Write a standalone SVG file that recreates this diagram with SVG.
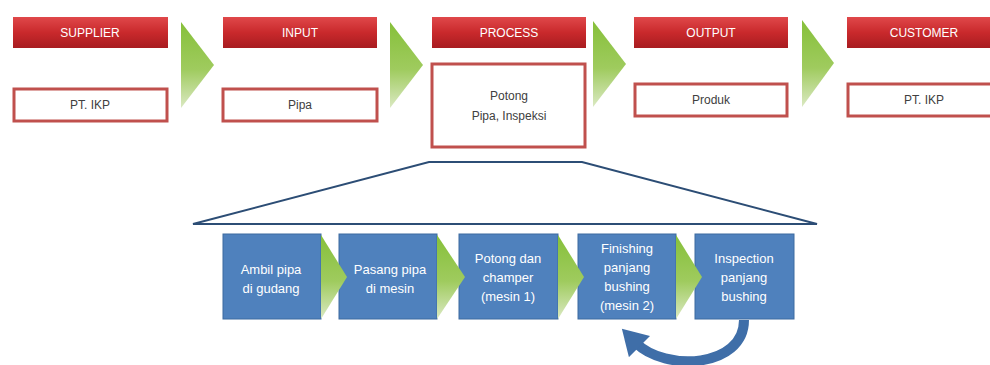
<svg xmlns="http://www.w3.org/2000/svg" width="990" height="365" viewBox="0 0 990 365">
<defs>
<linearGradient id="gRed" x1="0" y1="0" x2="0" y2="1">
<stop offset="0" stop-color="#e0484a"/>
<stop offset="0.5" stop-color="#c9292c"/>
<stop offset="1" stop-color="#a81c20"/>
</linearGradient>
<linearGradient id="gGreen" x1="0" y1="0" x2="0" y2="1">
<stop offset="0" stop-color="#86c03a"/>
<stop offset="0.55" stop-color="#9fcb5e"/>
<stop offset="1" stop-color="#dbe9c3"/>
</linearGradient>
<marker id="ah" markerUnits="userSpaceOnUse" markerWidth="30" markerHeight="30" refX="4" refY="12" orient="auto" viewBox="0 0 24 24">
<path d="M0,0 L20,12 L0,24 Z" fill="#3f6ea8"/>
</marker>
</defs>
<style>
.hdr{fill:url(#gRed);}
.hdrt{font-family:"Liberation Sans",Arial,sans-serif;font-size:12px;fill:#ffffff;text-anchor:middle;}
.wb{fill:#ffffff;stroke:#c0504d;stroke-width:3;}
.wbt{font-family:"Liberation Sans",Arial,sans-serif;font-size:12px;fill:#404040;text-anchor:middle;}
.chev{fill:url(#gGreen);}
.bb{fill:#4f81bd;stroke:#3d6ba0;stroke-width:1;}
.bbt{font-family:"Liberation Sans",Arial,sans-serif;font-size:13px;fill:#ffffff;text-anchor:middle;}
.trap{fill:none;stroke:#2c4d75;stroke-width:2;}
</style>

<g id="supplier">
<rect class="hdr" x="13" y="17" width="155" height="31"/>
<text class="hdrt" x="90" y="37">SUPPLIER</text>
<rect class="wb" x="14" y="89" width="153" height="32"/>
<text class="wbt" x="90" y="109">PT. IKP</text>
</g>
<g id="input">
<rect class="hdr" x="223" y="17" width="154" height="31"/>
<text class="hdrt" x="300" y="37">INPUT</text>
<rect class="wb" x="223" y="89" width="154" height="32"/>
<text class="wbt" x="300" y="109">Pipa</text>
</g>
<g id="process">
<rect class="hdr" x="432" y="17" width="154" height="31"/>
<text class="hdrt" x="509" y="37">PROCESS</text>
<rect class="wb" x="432" y="64" width="153" height="83"/>
<text class="wbt" x="509" y="100">Potong</text>
<text class="wbt" x="509" y="120">Pipa, Inspeksi</text>
</g>
<g id="output">
<rect class="hdr" x="634" y="17" width="154" height="31"/>
<text class="hdrt" x="711" y="37">OUTPUT</text>
<rect class="wb" x="635" y="84" width="152" height="32"/>
<text class="wbt" x="711" y="104">Produk</text>
</g>
<g id="customer">
<rect class="hdr" x="847" y="17" width="150" height="31"/>
<text class="hdrt" x="924" y="37">CUSTOMER</text>
<rect class="wb" x="848" y="84" width="150" height="32"/>
<text class="wbt" x="924" y="104">PT. IKP</text>
</g>

<g id="connectors">
<polygon class="chev" points="181,22 214,65 181,108"/>
<polygon class="chev" points="390,22 423,65 390,108"/>
<polygon class="chev" points="593,21 626,64 593,107"/>
<polygon class="chev" points="802,20 834,63 802,107"/>
<path class="trap" d="M193,224 L429,162 L582,162 L817,224 Z"/>
<path d="M744,320 C744,368 665,372 636,343" fill="none" stroke="#3f6ea8" stroke-width="10" marker-end="url(#ah)"/>
</g>

<g id="step1">
<rect class="bb" x="223" y="234" width="98" height="85"/>
<text class="bbt" x="271" y="274">Ambil pipa</text>
<text class="bbt" x="271" y="293">di gudang</text>
</g>
<g id="step2">
<rect class="bb" x="339" y="234" width="98" height="85"/>
<text class="bbt" x="390" y="274">Pasang pipa</text>
<text class="bbt" x="390" y="293">di mesin</text>
</g>
<g id="step3">
<rect class="bb" x="459" y="234" width="99" height="85"/>
<text class="bbt" x="508" y="263">Potong dan</text>
<text class="bbt" x="508" y="282">champer</text>
<text class="bbt" x="508" y="301">(mesin 1)</text>
</g>
<g id="step4">
<rect class="bb" x="578" y="234" width="98" height="85"/>
<text class="bbt" x="627" y="253">Finishing</text>
<text class="bbt" x="627" y="272">panjang</text>
<text class="bbt" x="627" y="291">bushing</text>
<text class="bbt" x="627" y="310">(mesin 2)</text>
</g>
<g id="step5">
<rect class="bb" x="695" y="234" width="99" height="85"/>
<text class="bbt" x="744" y="263">Inspection</text>
<text class="bbt" x="744" y="282">panjang</text>
<text class="bbt" x="744" y="301">bushing</text>
</g>

<g id="small-chevrons">
<polygon class="chev" points="321,235 347,277 321,319"/>
<polygon class="chev" points="437,235 465,277 437,319"/>
<polygon class="chev" points="558,235 584,277 558,319"/>
<polygon class="chev" points="676,235 702,277 676,319"/>
</g>
</svg>
